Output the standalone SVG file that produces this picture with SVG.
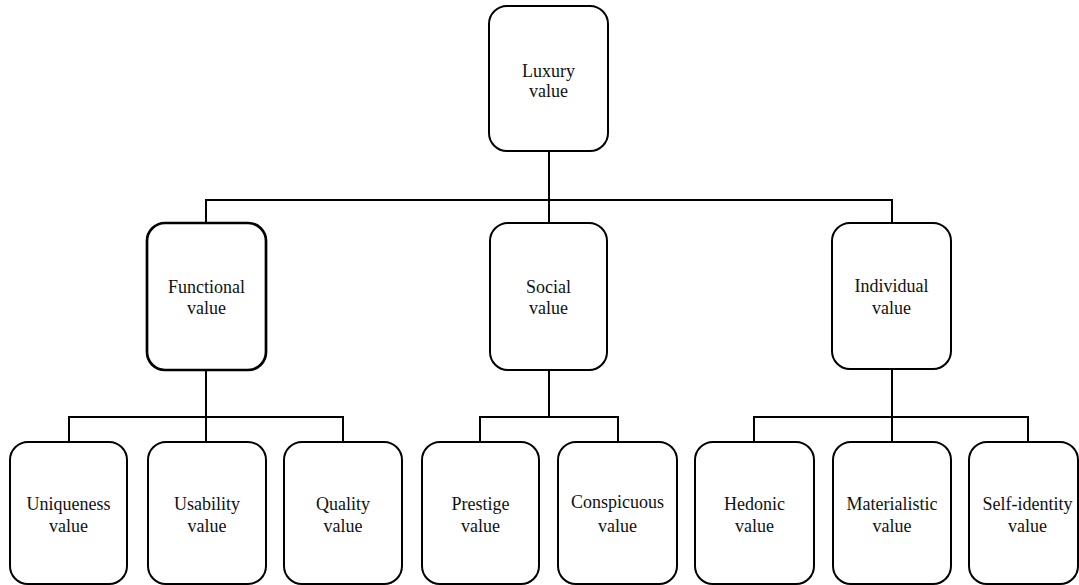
<svg xmlns="http://www.w3.org/2000/svg" width="1079" height="585" viewBox="0 0 1079 585">
<style>
.box{fill:#fff;stroke:#000;stroke-width:2}
.thick{stroke-width:2.7}
.con{fill:none;stroke:#000;stroke-width:2}
</style>
<rect width="1079" height="585" fill="#fff"/>
<g id="connectors">
<path class="con" d="M549 151V223M206 223V200H892V223"/>
<path class="con" d="M206 370V442M69 442V417H343V442"/>
<path class="con" d="M549 370V417M480 442V417H618V442"/>
<path class="con" d="M892 369V442M754 442V417H1028V442"/>
</g>
<g font-family="'Liberation Serif', 'DejaVu Serif', serif" font-size="18" fill="#111" text-anchor="middle">
<g id="luxury"><rect class="box" x="489" y="6" width="119" height="145" rx="18"/><text x="548.5" y="77">Luxury</text><text x="548.5" y="97">value</text></g>
<g id="functional"><rect class="box thick" x="147" y="223" width="119" height="147" rx="18"/><text x="206.5" y="293">Functional</text><text x="206.5" y="314">value</text></g>
<g id="social"><rect class="box" x="490" y="223" width="117" height="147" rx="18"/><text x="548.5" y="293">Social</text><text x="548.5" y="314">value</text></g>
<g id="individual"><rect class="box" x="832" y="223" width="119" height="146" rx="18"/><text x="891.5" y="292">Individual</text><text x="891.5" y="314">value</text></g>
<g id="uniqueness"><rect class="box" x="10" y="442" width="117" height="142" rx="18"/><text x="68.5" y="510">Uniqueness</text><text x="68.5" y="532">value</text></g>
<g id="usability"><rect class="box" x="148" y="442" width="118" height="142" rx="18"/><text x="207" y="510">Usability</text><text x="207" y="532">value</text></g>
<g id="quality"><rect class="box" x="284" y="442" width="118" height="142" rx="18"/><text x="343" y="510">Quality</text><text x="343" y="532">value</text></g>
<g id="prestige"><rect class="box" x="422" y="442" width="117" height="142" rx="18"/><text x="480.5" y="510">Prestige</text><text x="480.5" y="532">value</text></g>
<g id="conspicuous"><rect class="box" x="558" y="442" width="119" height="142" rx="18"/><text x="617.5" y="508">Conspicuous</text><text x="617.5" y="532">value</text></g>
<g id="hedonic"><rect class="box" x="695" y="442" width="119" height="142" rx="18"/><text x="754.5" y="510">Hedonic</text><text x="754.5" y="532">value</text></g>
<g id="materialistic"><rect class="box" x="833" y="442" width="118" height="142" rx="18"/><text x="892" y="510">Materialistic</text><text x="892" y="532">value</text></g>
<g id="selfidentity"><rect class="box" x="969" y="442" width="109" height="142" rx="18"/><text x="1027.5" y="510">Self-identity</text><text x="1027.5" y="532">value</text></g>
</g>
</svg>
